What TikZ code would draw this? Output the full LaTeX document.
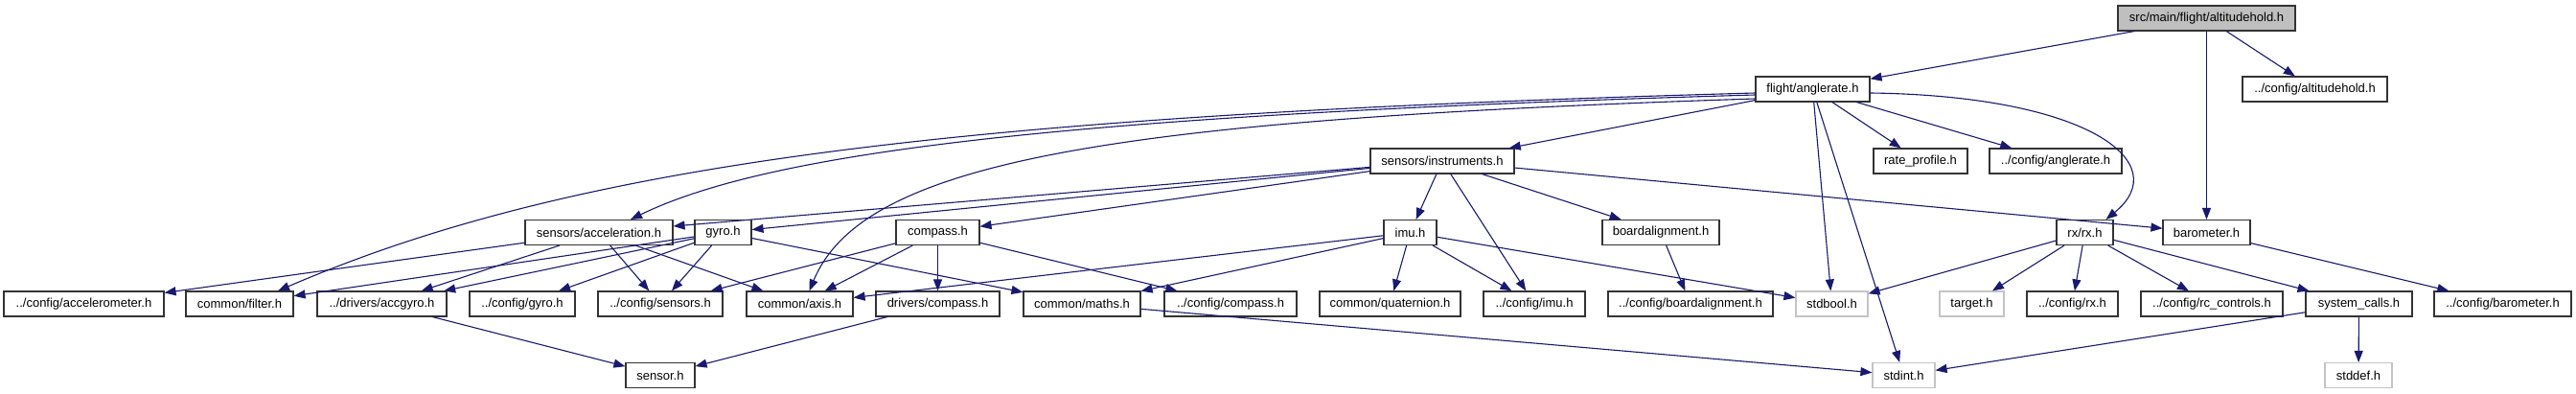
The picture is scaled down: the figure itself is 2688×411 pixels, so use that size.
\documentclass[tikz,border=0pt]{standalone}
\usepackage{fontspec}
\setsansfont{Liberation Sans}
\usepackage{tikz}
\usetikzlibrary{arrows.meta}
\definecolor{dxEdge}{HTML}{191970}
\definecolor{dxFrame}{HTML}{333333}
\definecolor{dxRoot}{HTML}{BFBFBF}
\definecolor{dxSys}{HTML}{C4C4C4}
\tikzset{
  dx graph/.style={font=\sffamily\fontsize{13}{15}\selectfont, text=black},
  dx file/.style={draw=dxFrame, fill=white, line width=1.1pt,
    minimum height=26pt, inner sep=0pt},
  dx root/.style={dx file, fill=dxRoot},
  dx sys/.style={dx file, draw=dxSys},
  dx edge/.style={-{Triangle[length=12pt,width=9pt]}, draw=dxEdge, line width=1.1pt}
}
\begin{document}
\begin{tikzpicture}[dx graph,x=1pt,y=-1pt]
\fill[white] (0,0) rectangle (2688,411);
\useasboundingbox (0,0) rectangle (2688,411);
% row 0 and 1
\node[dx root, minimum width=185pt] (root) at (2302.5,19) {src/main/flight/altitudehold.h};
\node[dx file, minimum width=119pt] (anglerate) at (1891.5,93) {flight/anglerate.h};
\node[dx file, minimum width=151pt] (altcfg) at (2415.5,93) {../config/altitudehold.h};
% row 2
\node[dx file, minimum width=150pt] (instr) at (1505,168) {sensors/instruments.h};
\node[dx file, minimum width=98pt] (rateprof) at (2004,168) {rate\_profile.h};
\node[dx file, minimum width=138pt] (anglecfg) at (2145,168) {../config/anglerate.h};
% row 3
\node[dx file, minimum width=154pt] (accel) at (625,242.5) {sensors/acceleration.h};
\node[dx file, minimum width=59pt] (gyro) at (754.5,242.5) {gyro.h};
\node[dx file, minimum width=87pt] (compass) at (978.5,242.5) {compass.h};
\node[dx file, minimum width=55pt] (imu) at (1471.5,242.5) {imu.h};
\node[dx file, minimum width=122pt] (boardal) at (1733,242.5) {boardalignment.h};
\node[dx file, minimum width=59pt] (rx) at (2175.5,242.5) {rx/rx.h};
\node[dx file, minimum width=91pt] (baro) at (2302.5,242.5) {barometer.h};
% row 4
\node[dx file, minimum width=167pt] (accelcfg) at (87.5,317) {../config/accelerometer.h};
\node[dx file, minimum width=112pt] (filter) at (250,317) {common/filter.h};
\node[dx file, minimum width=135pt] (accgyro) at (398.5,317) {../drivers/accgyro.h};
\node[dx file, minimum width=110pt] (gyrocfg) at (545,317) {../config/gyro.h};
\node[dx file, minimum width=130pt] (sensorcfg) at (689,317) {../config/sensors.h};
\node[dx file, minimum width=111pt] (axis) at (834.5,317) {common/axis.h};
\node[dx file, minimum width=129pt] (drvcompass) at (978.5,317) {drivers/compass.h};
\node[dx file, minimum width=122pt] (maths) at (1129,317) {common/maths.h};
\node[dx file, minimum width=138pt] (compasscfg) at (1284,317) {../config/compass.h};
\node[dx file, minimum width=147pt] (quat) at (1450.5,317) {common/quaternion.h};
\node[dx file, minimum width=106pt] (imucfg) at (1601,317) {../config/imu.h};
\node[dx file, minimum width=172pt] (boardcfg) at (1764,317) {../config/boardalignment.h};
\node[dx sys, minimum width=75pt] (stdbool) at (1911.5,317) {stdbool.h};
\node[dx sys, minimum width=67pt] (target) at (2057.5,317) {target.h};
\node[dx file, minimum width=95pt] (rxcfg) at (2162.5,317) {../config/rx.h};
\node[dx file, minimum width=148pt] (rccfg) at (2308,317) {../config/rc\_controls.h};
\node[dx file, minimum width=111pt] (syscalls) at (2461.5,317) {system\_calls.h};
\node[dx file, minimum width=143pt] (barocfg) at (2611.5,317) {../config/barometer.h};
% row 5
\node[dx file, minimum width=72pt] (sensor) at (689,391.5) {sensor.h};
\node[dx sys, minimum width=65pt] (stdint) at (1986.5,391.5) {stdint.h};
\node[dx sys, minimum width=70pt] (stddef) at (2461,391.5) {stddef.h};
% straight includes
\foreach \a/\b in {root/anglerate,root/altcfg,root/baro,
    anglerate/instr,anglerate/rateprof,anglerate/anglecfg,anglerate/stdbool,anglerate/stdint,
    instr/accel,instr/gyro,instr/compass,instr/imu,instr/imucfg,instr/boardal,instr/baro,
    accel/accelcfg,accel/accgyro,accel/sensorcfg,accel/axis,
    gyro/filter,gyro/accgyro,gyro/gyrocfg,gyro/sensorcfg,gyro/maths,
    compass/sensorcfg,compass/axis,compass/drvcompass,compass/compasscfg,
    imu/axis,imu/maths,imu/quat,imu/imucfg,imu/stdbool,
    boardal/boardcfg,
    rx/stdbool,rx/target,rx/rxcfg,rx/rccfg,rx/syscalls,
    baro/barocfg,
    accgyro/sensor,drvcompass/sensor,maths/stdint,syscalls/stdint,syscalls/stddef}
  \draw[dx edge] (\a) -- (\b);
% curved includes
\draw[dx edge] ([yshift=-4pt]anglerate.west) .. controls (1000,120) and (600,170) .. ([xshift=40pt]filter.north);
\draw[dx edge] ([yshift=-6pt]anglerate.west) .. controls (1100,120) and (800,160) .. ([xshift=33pt]accel.north);
\draw[dx edge] ([yshift=-10pt]anglerate.west) .. controls (1150,125) and (900,170) .. ([xshift=10pt]axis.north);
\draw[dx edge] ([yshift=-4pt]anglerate.east) .. controls (2180,100) and (2270,170) .. ([xshift=22pt]rx.north);
\end{tikzpicture}
\end{document}
